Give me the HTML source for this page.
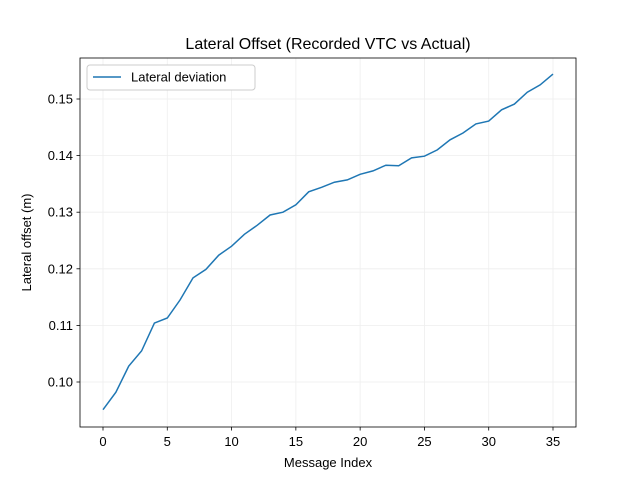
<!DOCTYPE html>
<html><head><meta charset="utf-8"><style>
body{margin:0;background:#fff;}
svg{font-family:"Liberation Sans","DejaVu Sans",sans-serif;}
</style></head><body>
<svg id="chart" width="640" height="480" xmlns="http://www.w3.org/2000/svg">
<rect width="640" height="480" fill="#fff"/>
<text x="328" y="49" text-anchor="middle" font-size="16" fill="#000">Lateral Offset (Recorded VTC vs Actual)</text>
<g id="grid"></g>
<g id="ticks"></g>
<path id="line" fill="none" stroke="#1f77b4" stroke-width="1.5"/>
<rect x="80" y="58" width="496" height="369" fill="none" stroke="#000" stroke-width="0.8"/>
<text x="328" y="467" text-anchor="middle" font-size="13">Message Index</text>
<text transform="translate(31,242.5) rotate(-90)" text-anchor="middle" font-size="13">Lateral offset (m)</text>
<g>
<rect x="87" y="65" width="168" height="25" rx="3" fill="#fff" stroke="#ccc"/>
<line x1="93" y1="77" x2="121" y2="77" stroke="#1f77b4" stroke-width="1.5"/>
<text x="131" y="81.5" font-size="13">Lateral deviation</text>
</g>
</svg>
<script>
const values=[0.0951,0.0982,0.1028,0.1055,0.1104,0.1113,0.1145,0.1184,0.1199,0.1224,0.1240,0.1261,0.1277,0.1295,0.1300,0.1313,0.1336,0.1344,0.1353,0.1357,0.1367,0.1373,0.1383,0.1382,0.1396,0.1399,0.1410,0.1428,0.1440,0.1456,0.1461,0.1481,0.1491,0.1512,0.1525,0.1544];
const xTicks=[0,5,10,15,20,25,30,35];
const yTicks=[0.10,0.11,0.12,0.13,0.14,0.15];
function xs(i){return 103+i*(450/35);}
function ys(v){return 382-(v-0.10)*5660;}
const NS="http://www.w3.org/2000/svg";
const g=document.getElementById('ticks'),gr=document.getElementById('grid');
function mk(tag,attrs,parent){const e=document.createElementNS(NS,tag);for(const k in attrs)e.setAttribute(k,attrs[k]);parent.appendChild(e);return e;}
xTicks.forEach(t=>{const x=xs(t);
const gl=mk('line',{x1:x,x2:x,y1:58,y2:427,stroke:'#eee','stroke-width':0.8},gr);


const tl=mk('line',{x1:x,x2:x,y1:427,y2:430.5,stroke:'#000','stroke-width':0.8},g);


const tx=mk('text',{x:x,y:446,'text-anchor':'middle','font-size':13},g);tx.textContent=t;

});
yTicks.forEach(t=>{const y=ys(t);
const gl=mk('line',{x1:80,x2:576,y1:y,y2:y,stroke:'#eee','stroke-width':0.8},gr);


const tl=mk('line',{x1:76.5,x2:80,y1:y,y2:y,stroke:'#000','stroke-width':0.8},g);


const tx=mk('text',{x:73,y:y+4.5,'text-anchor':'end','font-size':13},g);tx.textContent=t.toFixed(2);

});
document.getElementById('line').setAttribute('d',values.map((v,i)=>(i?'L':'M')+xs(i).toFixed(1)+','+ys(v).toFixed(1)).join(''));
</script>
</body></html>
